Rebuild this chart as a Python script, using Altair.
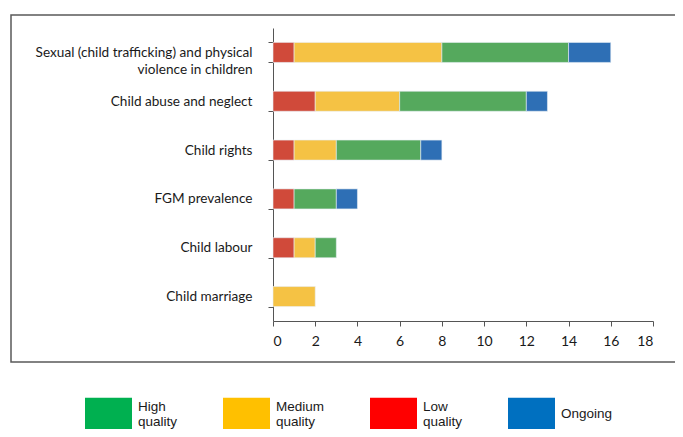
import altair as alt
import pandas as pd

categories = [
    "Sexual (child trafficking) and physical\nviolence in children",
    "Child abuse and neglect",
    "Child rights",
    "FGM prevalence",
    "Child labour",
    "Child marriage",
]
low_quality = [1, 2, 1, 1, 1, 0]
medium_quality = [7, 4, 2, 0, 1, 2]
high_quality = [6, 6, 4, 2, 1, 0]
ongoing = [2, 1, 1, 1, 0, 0]

series_names = ["Low quality", "Medium quality", "High quality", "Ongoing"]
series_values = [low_quality, medium_quality, high_quality, ongoing]
bar_colors = ["#d04a3a", "#f5c244", "#55a95d", "#2e6fb5"]

legend_order = ["High quality", "Medium quality", "Low quality", "Ongoing"]
legend_colors = ["#00b050", "#ffc000", "#ff0000", "#0070c0"]

rows = []
for s_i, (name, vals) in enumerate(zip(series_names, series_values)):
    for cat, v in zip(categories, vals):
        if v > 0:
            rows.append({"category": cat, "quality": name, "value": v, "order": s_i})
df = pd.DataFrame(rows)

base = alt.Chart(df)

bars = base.mark_bar(stroke="#e8eef5", strokeWidth=0.6).encode(
    y=alt.Y(
        "category:N",
        sort=categories,
        title=None,
        scale=alt.Scale(paddingInner=0.59, paddingOuter=0.295),
        axis=alt.Axis(
            labelExpr="split(datum.label, '\\n')",
            labelFont="Lato",
            labelFontSize=13.6,
            labelColor="#1a1a1a",
            labelLineHeight=17,
            labelPadding=16,
            tickBand="extent",
            tickSize=5,
            tickColor="#555555",
            domainColor="#555555",
            labelLimit=400,
        ),
    ),
    x=alt.X(
        "sum(value):Q",
        stack="zero",
        title=None,
        scale=alt.Scale(domain=[0, 18], nice=False),
        axis=alt.Axis(
            values=[0, 2, 4, 6, 8, 10, 12, 14, 16, 18],
            grid=False,
            labelFont="Lato",
            labelFontSize=14,
            labelColor="#1a1a1a",
            labelPadding=8,
            tickSize=5,
            tickColor="#555555",
            domainColor="#555555",
        ),
    ),
    color=alt.Color(
        "quality:N",
        scale=alt.Scale(domain=series_names, range=bar_colors),
        legend=None,
    ),
    order=alt.Order("order:Q"),
)

legend_layer = base.mark_point(filled=True, opacity=0).encode(
    color=alt.Color(
        "quality:N",
        scale=alt.Scale(domain=legend_order, range=legend_colors),
        legend=alt.Legend(
            title=None,
            orient="none",
            legendX=-188,
            legendY=362,
            direction="horizontal",
            columns=4,
            gridAlign="each",
            columnPadding=45,
            symbolType="M-1,-0.68L1,-0.68L1,0.68L-1,0.68Z",
            symbolSize=2209,
            symbolOpacity=1,
            symbolStrokeWidth=0,
            labelExpr="datum.label == 'Ongoing' ? datum.label : split(datum.label, ' ')",
            labelFont="Liberation Sans",
            labelFontSize=13.5,
            labelColor="#1a1a1a",
            labelOffset=6,
            labelBaseline={"expr": "datum.label == 'Ongoing' ? 'middle' : 'bottom'"},
            padding=0,
        ),
    ),
)

frame = alt.Chart(alt.Data(values=[{}])).mark_rect(
    fill="white", fillOpacity=0, stroke="#5a5a5a", strokeWidth=1.5
).encode(
    x=alt.value(-262),
    x2=alt.value(440),
    y=alt.value(-13),
    y2=alt.value(334),
)

chart = (
    alt.layer(frame, bars, legend_layer)
    .resolve_scale(color="independent")
    .properties(
        width=380,
        height=293,
        autosize=alt.AutoSizeParams(type="none"),
        padding={"left": 265, "top": 20, "right": 22, "bottom": 108},
    )
    .configure_view(stroke=None)
)

chart.save("out.html", embed_options={"renderer": "svg", "actions": False})
